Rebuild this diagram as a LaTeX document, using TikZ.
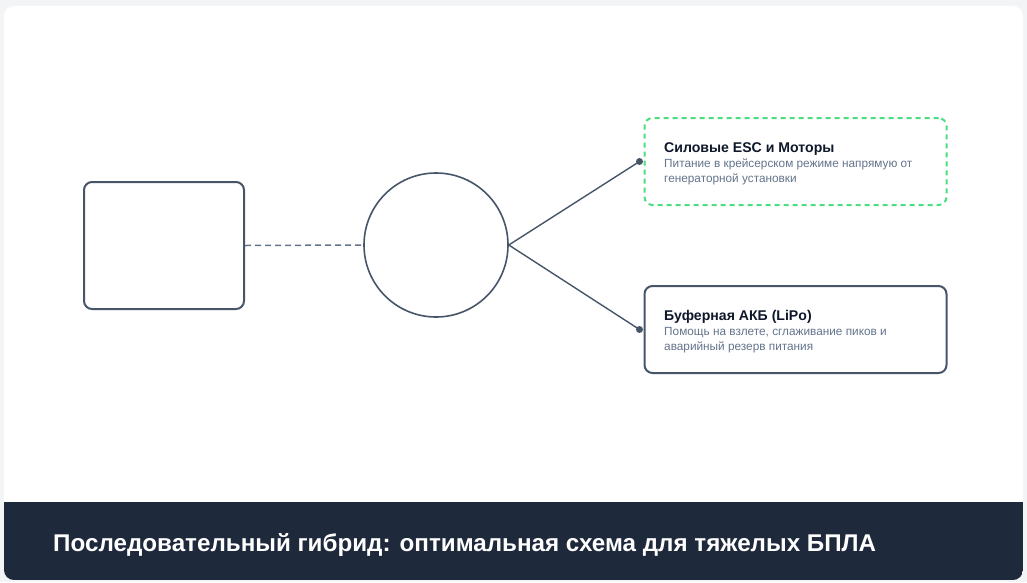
\documentclass[tikz,border=0pt]{standalone}
\usepackage{fontspec}
\setmainfont{Liberation Sans}
\usetikzlibrary{positioning}
\definecolor{pagebg}{HTML}{F3F4F6}
\definecolor{footbg}{HTML}{1E293B}
\definecolor{edgecol}{HTML}{475569}
\definecolor{dashcol}{HTML}{64748B}
\definecolor{okgreen}{HTML}{4ADE80}
\definecolor{headtxt}{HTML}{0F172A}
\definecolor{subtxt}{HTML}{64748B}

\begin{document}
\begin{tikzpicture}[x=1pt, y=-1pt,
    block/.style={draw=edgecol, line width=2pt, rounded corners=8pt, fill=white, inner sep=0pt},
    hubnode/.style={circle, draw=edgecol, line width=1.6pt, minimum size=144pt, inner sep=0pt},
    infobox/.style={block, minimum width=302pt, minimum height=87pt},
    dot/.style={circle, fill=edgecol, minimum size=7pt, inner sep=0pt},
    link/.style={draw=edgecol, line width=1.4pt},
    boxhead/.style={anchor=base west, inner sep=0pt, text=headtxt, font=\bfseries\fontsize{14.1}{16}\selectfont},
    boxsub/.style={anchor=base west, inner sep=0pt, text=subtxt, font=\fontsize{11.8}{15}\selectfont}]
      % background and card
      \fill[pagebg] (0,0) rectangle (1027,582);
      \fill[white, rounded corners=10pt] (4,6) rectangle (1023,580);
      \begin{scope}
        \clip[rounded corners=10pt] (4,6) rectangle (1023,580);
        \fill[footbg] (4,502) rectangle (1023,580);
      \end{scope}

      % source, hub and consumers
      \node[block, minimum width=160pt, minimum height=127pt] (gen) at (164,245.5) {};
      \node[hubnode] (hub) at (436,245) {};
      \node[infobox, draw=okgreen, dash pattern=on 5pt off 4pt] (esc) at (795.5,161.5) {};
      \node[infobox] (lipo) at (795.5,329.5) {};

      \node[dot] (escdot) at ([xshift=-4pt]esc.west) {};
      \node[dot] (lipodot) at ([xshift=-4pt]lipo.west) {};

      \draw[dashcol, line width=1.5pt, dash pattern=on 6pt off 4pt] (gen.east) -- (hub.west);
      \draw[link] (hub.east) -- (escdot.center);
      \draw[link] (hub.east) -- (lipodot.center);

      % box texts
      \node[boxhead] (esctitle) at (664,152.3) {Силовые ESC и Моторы};
      \node[boxsub] (escline1) at (664,167.7) {Питание в крейсерском режиме напрямую от};
      \node[boxsub] (escline2) at (664,182.5) {генераторной установки};

      \node[boxhead] (lipotitle) at (664,320.7) {Буферная АКБ (LiPo)};
      \node[boxsub] (lipoline1) at (664,335.5) {Помощь на взлете, сглаживание пиков и};
      \node[boxsub] (lipoline2) at (664,350.7) {аварийный резерв питания};

      \node[anchor=base west, inner sep=0pt, text=white, font=\bfseries\fontsize{24.2}{28}\selectfont] (caption) at (53,551.7) {Последовательный гибрид: оптимальная схема для тяжелых БПЛА};
    \end{tikzpicture}
\end{document}
